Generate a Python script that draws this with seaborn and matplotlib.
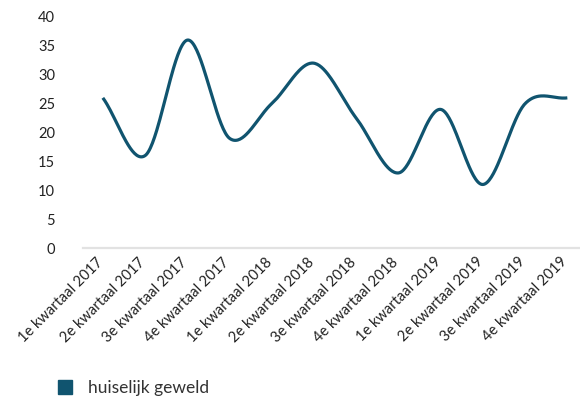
import numpy as np
import pandas as pd
import matplotlib
matplotlib.use("Agg")
import matplotlib.pyplot as plt
import matplotlib.transforms as mtransforms
import seaborn as sns
from matplotlib.patches import Patch

# Data
kwartalen = ["1e kwartaal 2017", "2e kwartaal 2017", "3e kwartaal 2017", "4e kwartaal 2017",
             "1e kwartaal 2018", "2e kwartaal 2018", "3e kwartaal 2018", "4e kwartaal 2018",
             "1e kwartaal 2019", "2e kwartaal 2019", "3e kwartaal 2019", "4e kwartaal 2019"]
huiselijk_geweld = [26, 16, 36, 19, 25, 32, 22.5, 13, 24, 11, 25, 26]
reeks_naam = "huiselijk geweld"
kleur = "#10546f"


def smooth(y, n=40):
    # cardinal (Catmull-Rom) spline through the points
    y = np.asarray(y, dtype=float)
    x = np.arange(len(y), dtype=float)
    m = np.zeros_like(y)
    m[1:-1] = (y[2:] - y[:-2]) / 2
    m[0] = y[1] - y[0]
    m[-1] = y[-1] - y[-2]
    xs, ys = [], []
    for i in range(len(y) - 1):
        t = np.linspace(0, 1, n, endpoint=False)
        h00 = 2 * t**3 - 3 * t**2 + 1
        h10 = t**3 - 2 * t**2 + t
        h01 = -2 * t**3 + 3 * t**2
        h11 = t**3 - t**2
        xs.append(x[i] + t)
        ys.append(h00 * y[i] + h10 * m[i] + h01 * y[i + 1] + h11 * m[i + 1])
    xs.append([x[-1]])
    ys.append([y[-1]])
    return np.concatenate(xs), np.concatenate(ys)


sx, sy = smooth(huiselijk_geweld)
df = pd.DataFrame({"x": sx, "y": sy})

sns.set_theme(style="white")
plt.rcParams["font.family"] = ["Lato", "DejaVu Sans"]

fig = plt.figure(figsize=(5.8, 4.0), dpi=100)
ax = fig.add_axes([83 / 580, 1 - 248 / 400, 497 / 580, 231 / 400])

sns.lineplot(data=df, x="x", y="y", ax=ax, color=kleur, linewidth=2.3,
             solid_capstyle="butt", sort=False)

ax.set_xlim(-0.47, 11.3)
ax.set_ylim(0, 40)
ax.set_yticks(range(0, 41, 5))
ax.set_xticks(range(len(kwartalen)))
ax.set_xticklabels(kwartalen, rotation=45, ha="right", rotation_mode="anchor")
ax.tick_params(axis="both", length=0, labelsize=10.5, colors="#222222")
ax.tick_params(axis="y", pad=20)
ax.tick_params(axis="x", pad=5)
ax.set_xlabel("")
ax.set_ylabel("")

# schuif de kwartaallabels iets naar links
offset = mtransforms.ScaledTranslation(-7 / 100, 0, fig.dpi_scale_trans)
for lab in ax.get_xticklabels():
    lab.set_transform(lab.get_transform() + offset)

for side in ["top", "right", "left"]:
    ax.spines[side].set_visible(False)
ax.spines["bottom"].set_color("#e2e2e2")
ax.spines["bottom"].set_linewidth(1.6)
ax.grid(False)

handle = Patch(facecolor=kleur, edgecolor=kleur, label=reeks_naam)
fig.legend(handles=[handle], loc="center left", bbox_to_anchor=(42 / 580, 1 - 388 / 400),
           frameon=False, fontsize=12.5, handlelength=0.85, handleheight=0.85,
           handletextpad=0.9, labelcolor="#333333")

fig.savefig("out.png", dpi=100)
